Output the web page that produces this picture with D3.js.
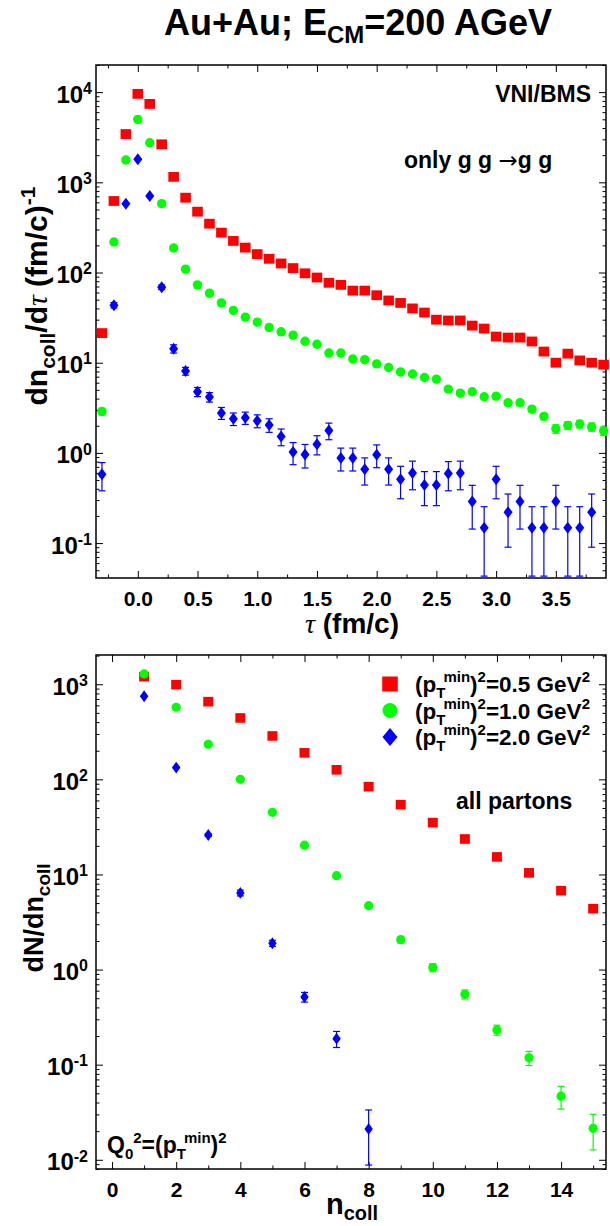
<!DOCTYPE html>
<html>
<head>
<meta charset="utf-8">
<script src="https://cdn.jsdelivr.net/npm/d3@7"></script>
<style>
body{margin:0;background:#fff;}
svg text{font-family:"Liberation Sans",Arial,Helvetica,sans-serif;font-weight:bold;fill:#000;}
svg text .greek{font-family:"Liberation Serif","DejaVu Serif",serif;font-style:italic;font-weight:normal;}
svg text .thin{font-family:"DejaVu Sans",sans-serif;font-weight:normal;}
</style>
</head>
<body>
<script>
(function(){
  //top panel: collisions per unit time
  var tauVals = [-0.3,-0.2,-0.1,0.0,0.1,0.2,0.3,0.4,0.5,0.6,0.7,0.8,0.9,1.0,1.1,1.2,1.3,1.4,1.5,1.6,1.7,1.8,1.9,2.0,2.1,2.2,2.3,2.4,2.5,2.6,2.7,2.8,2.9,3.0,3.1,3.2,3.3,3.4,3.5,3.6,3.7,3.8,3.9];
  var redTau = [21.3,621,3430,9580,7410,2640,1150,676,473,348,277,224,189,160,142,126,112,98,88,77,73,63,63,56,49,46,40,36,30,29.4,29.4,25.8,23.9,19.5,19.0,19.0,17.2,13.3,10.0,12.6,10.6,10.0,9.5];
  var greenTau = [2.88,218,1770,4990,2750,580,187,109,73,59,46,38,32,28.2,24.6,22,20.2,17.3,16.0,12.8,12.8,11.0,10.8,9.7,8.85,7.9,7.5,6.86,6.58,5.1,4.6,4.76,4.19,4.26,3.6,3.6,3.06,2.54,1.85,2.02,2.09,1.94,1.75];
  var greenTauErr = [0.25,1.6,4.6,7.8,5.8,2.7,1.5,1.15,0.94,0.85,0.75,0.68,0.62,0.59,0.55,0.52,0.5,0.46,0.44,0.4,0.4,0.37,0.36,0.34,0.33,0.31,0.3,0.29,0.28,0.25,0.24,0.24,0.23,0.23,0.22,0.22,0.22,0.2,0.2,0.2,0.2,0.2,0.19];
  var blueTau = [0.58,43.4,580,1800,705,68.8,14.3,8.07,4.76,4.16,2.77,2.39,2.45,2.27,2.04,1.52,1.02,0.96,1.25,1.77,0.88,0.88,0.66,0.955,0.66,0.51,0.60,0.44,0.44,0.59,0.60,0.29,0.148,0.51,0.22,0.29,0.148,0.148,0.29,0.148,0.148,0.22,null];
  var blueTauErr = [0.2,3,12,20,13,4,1.5,0.8,0.55,0.5,0.42,0.38,0.38,0.37,0.35,0.32,0.28,0.28,0.3,0.37,0.25,0.25,0.22,0.27,0.22,0.2,0.21,0.18,0.18,0.21,0.21,0.147,0.105,0.2,0.13,0.147,0.105,0.105,0.147,0.105,0.105,0.13,null];
  var tauTickLabels = [0.0,0.5,1.0,1.5,2.0,2.5,3.0,3.5];

  //bottom panel: number of collisions distribution
  var nColl = [1,2,3,4,5,6,7,8,9,10,11,12,13,14,15];
  var redN = [1202,990,656,442,286,190,126,83.8,54.2,35.1,23.6,15.3,10.4,6.76,4.37];
  var greenN = [1283,573,234,100,45,20.3,9.7,4.7,2.06,1.05,0.55,0.232,0.118,0.0466,0.0214];
  var greenNErr = [5,3,2,1.2,0.8,0.5,0.35,0.25,0.15,0.1,0.06,0.028,0.02,0.0125,0.0087];
  var blueN = [748,133,26,6.4,1.89,0.515,0.1875,0.0211,null,null,null,null,null,null,null];
  var blueNErr = [5,2,0.9,0.45,0.14,0.06,0.036,0.0123,null,null,null,null,null,null,null];
  var nTickLabels = [0,2,4,6,8,10,12,14];

  var legendLabels = ["0.5","1.0","2.0"];

  var width = 610, height = 1226;
  var left = 96, right = 606;

  var svg = d3.select("body").append("svg")
      .attr("width", width)
      .attr("height", height);

  //title
  var title = svg.append("text")
      .attr("x", 358).attr("y", 35)
      .attr("text-anchor", "middle")
      .style("font-size", "36px")
      .text("Au+Au; E");
  title.append("tspan").attr("dy", 8).style("font-size", "24px").text("CM");
  title.append("tspan").attr("dy", -8).text("=200 AGeV");

  function markerPath(type, w, h){
    if (type == "square"){
      return "M" + (-w) + "," + (-h) + "H" + w + "V" + h + "H" + (-w) + "Z";
    } else if (type == "diamond"){
      return "M0," + (-h) + "L" + w + ",0L0," + h + "L" + (-w) + ",0Z";
    } else {
      return d3.arc()({innerRadius:0, outerRadius:w, startAngle:0, endAngle:2*Math.PI});
    }
  };

  function logTicks(domain){
    var major = [], minor = [];
    var lo = Math.floor(Math.log10(domain[0])), hi = Math.ceil(Math.log10(domain[1]));
    for (var e=lo; e<=hi; e++){
      var base = Math.pow(10, e);
      if (base >= domain[0] && base <= domain[1]) major.push(base);
      for (var k=2; k<10; k++){
        var v = k * base;
        if (v >= domain[0] && v <= domain[1]) minor.push(v);
      }
    }
    return {major:major, minor:minor};
  };

  function cleanAxis(g){
    g.attr("font-size", null).attr("font-family", null);
    g.select(".domain").remove();
    g.selectAll(".tick line").attr("stroke", "#000").attr("stroke-width", 1);
  };

  function drawPanel(p){
    var x = d3.scaleLinear().domain(p.xDomain).range([left, right]);
    var y = d3.scaleLog().domain(p.yDomain).range([p.bottom, p.top]);
    var g = svg.append("g");
    var yt = logTicks(p.yDomain);

    //y axes (both sides, ticks inward)
    g.append("g").attr("transform", "translate(" + left + ",0)")
      .call(d3.axisLeft(y).tickValues(yt.minor).tickSize(-3.5).tickFormat(""))
      .call(cleanAxis);
    g.append("g").attr("transform", "translate(" + right + ",0)")
      .call(d3.axisRight(y).tickValues(yt.minor).tickSize(-3.5).tickFormat(""))
      .call(cleanAxis);
    g.append("g").attr("transform", "translate(" + right + ",0)")
      .call(d3.axisRight(y).tickValues(yt.major).tickSize(-7).tickFormat(""))
      .call(cleanAxis);
    var yAxis = g.append("g").attr("transform", "translate(" + left + ",0)")
      .call(d3.axisLeft(y).tickValues(yt.major).tickSize(-7).tickPadding(p.yPad)
        .tickFormat(function(){ return "10"; }))
      .call(cleanAxis);
    yAxis.selectAll(".tick text")
      .attr("dy", "0.42em")
      .style("font-size", "24px")
      .append("tspan")
      .attr("dy", "-0.55em")
      .style("font-size", "16px")
      .text(function(d){ return Math.round(Math.log10(d)); });

    //x axes
    g.append("g").attr("transform", "translate(0," + p.bottom + ")")
      .call(d3.axisBottom(x).tickValues(p.xMinor).tickSize(-3.5).tickFormat(""))
      .call(cleanAxis);
    g.append("g").attr("transform", "translate(0," + p.top + ")")
      .call(d3.axisTop(x).tickValues(p.xMinor).tickSize(-3.5).tickFormat(""))
      .call(cleanAxis);
    g.append("g").attr("transform", "translate(0," + p.top + ")")
      .call(d3.axisTop(x).tickValues(p.xMajor).tickSize(-7).tickFormat(""))
      .call(cleanAxis);
    var xAxis = g.append("g").attr("transform", "translate(0," + p.bottom + ")")
      .call(d3.axisBottom(x).tickValues(p.xMajor).tickSize(-7).tickPadding(p.xPad)
        .tickFormat(p.xFormat))
      .call(cleanAxis);
    xAxis.selectAll(".tick text").style("font-size", "21px");

    //frame
    g.append("rect")
      .attr("x", left).attr("y", p.top)
      .attr("width", right - left).attr("height", p.bottom - p.top)
      .attr("fill", "none").attr("stroke", "#000").attr("stroke-width", 1.5);

    //series
    p.series.forEach(function(s){
      var pts = [];
      for (var i=0; i<p.xVals.length; i++){
        if (s.vals[i] != null) pts.push({x:p.xVals[i], v:s.vals[i], e:s.errs ? s.errs[i] : 0});
      }
      var errG = g.append("g").attr("stroke", s.color).attr("stroke-width", 1.2);
      pts.forEach(function(d){
        if (!d.e) return;
        var px = x(d.x),
            y1 = y(d.v + d.e),
            y2 = d.v - d.e > p.yDomain[0] ? y(d.v - d.e) : p.bottom - 2;
        errG.append("line").attr("x1", px).attr("x2", px).attr("y1", y1).attr("y2", y2);
        errG.append("line").attr("x1", px - 3.5).attr("x2", px + 3.5).attr("y1", y1).attr("y2", y1);
        errG.append("line").attr("x1", px - 3.5).attr("x2", px + 3.5).attr("y1", y2).attr("y2", y2);
      });
      g.append("g").selectAll("path")
        .data(pts)
        .enter()
        .append("path")
        .attr("transform", function(d){ return "translate(" + x(d.x) + "," + y(d.v) + ")"; })
        .attr("d", markerPath(s.shape, s.w, s.h))
        .attr("fill", s.color);
    });
    return {x:x, y:y};
  };

  //top panel
  drawPanel({
    top: 65, bottom: 578,
    xDomain: [-0.35, 3.92], yDomain: [0.041, 20000],
    xMajor: tauTickLabels,
    xMinor: [-0.25,0.25,0.75,1.25,1.75,2.25,2.75,3.25,3.75],
    xFormat: d3.format(".1f"), xPad: 13, yPad: 4,
    xVals: tauVals,
    series: [
      {vals: redTau, color: "#ff0000", shape: "square", w: 5.3, h: 4.9},
      {vals: greenTau, errs: greenTauErr, color: "#00ff00", shape: "circle", w: 4.7},
      {vals: blueTau, errs: blueTauErr, color: "#0000ff", shape: "diamond", w: 4.5, h: 6}
    ]
  });

  //bottom panel
  drawPanel({
    top: 655, bottom: 1169,
    xDomain: [-0.5, 15.4], yDomain: [0.008, 2030],
    xMajor: nTickLabels,
    xMinor: [1,3,5,7,9,11,13,15],
    xFormat: d3.format("d"), xPad: 13, yPad: 8,
    xVals: nColl,
    series: [
      {vals: redN, color: "#ff0000", shape: "square", w: 5, h: 4.8},
      {vals: greenN, errs: greenNErr, color: "#00ff00", shape: "circle", w: 4.6},
      {vals: blueN, errs: blueNErr, color: "#0000ff", shape: "diamond", w: 4.2, h: 5.9}
    ]
  });

  //axis titles
  var yl1 = svg.append("text")
      .attr("transform", "translate(47,296) rotate(-90)")
      .attr("text-anchor", "middle")
      .style("font-size", "30px")
      .text("dn");
  yl1.append("tspan").attr("dy", 8).style("font-size", "21px").text("coll");
  yl1.append("tspan").attr("dy", -8).text("/d");
  yl1.append("tspan").attr("class", "greek").text("\u03c4");
  yl1.append("tspan").text(" (fm/c)");
  yl1.append("tspan").attr("dy", -12).style("font-size", "21px").text("-1");

  var xl1 = svg.append("text")
      .attr("x", 352).attr("y", 633)
      .attr("text-anchor", "middle")
      .style("font-size", "28px");
  xl1.append("tspan").attr("class", "greek").text("\u03c4");
  xl1.append("tspan").text(" (fm/c)");

  var yl2 = svg.append("text")
      .attr("transform", "translate(43,918) rotate(-90)")
      .attr("text-anchor", "middle")
      .style("font-size", "27px")
      .text("dN/dn");
  yl2.append("tspan").attr("dy", 7).style("font-size", "19px").text("coll");

  var xl2 = svg.append("text")
      .attr("x", 352).attr("y", 1214)
      .attr("text-anchor", "middle")
      .style("font-size", "29px")
      .text("n");
  xl2.append("tspan").attr("dy", 6).style("font-size", "20px").text("coll");

  //annotations
  svg.append("text").attr("x", 591).attr("y", 102)
      .attr("text-anchor", "end").style("font-size", "23px").text("VNI/BMS");
  var gg = svg.append("text").attr("x", 404).attr("y", 168).style("font-size", "23px").text("only g g ");
  gg.append("tspan").attr("class", "thin").text("\u2192");
  gg.append("tspan").text("g g");

  svg.append("text").attr("x", 456).attr("y", 809).style("font-size", "23px").text("all partons");

  var q = svg.append("text").attr("x", 107).attr("y", 1153).style("font-size", "23px").text("Q");
  q.append("tspan").attr("dy", 6).style("font-size", "15px").text("0");
  q.append("tspan").attr("dy", -16).style("font-size", "15px").text("2");
  q.append("tspan").attr("dy", 10).text("=(p");
  q.append("tspan").attr("dy", 6).style("font-size", "15px").text("T");
  q.append("tspan").attr("dy", -16).attr("dx", -2).style("font-size", "15px").text("min");
  q.append("tspan").attr("dy", 10).text(")");
  q.append("tspan").attr("dy", -10).style("font-size", "15px").text("2");

  //legend
  var legShapes = [
    {color: "#ff0000", shape: "square", w: 7.8, h: 7.5},
    {color: "#00ff00", shape: "circle", w: 7.5},
    {color: "#0000ff", shape: "diamond", w: 7.5, h: 9}
  ];
  var legend = svg.append("g");
  legendLabels.forEach(function(lab, i){
    var yy = 684 + i * 26.5;
    legend.append("path")
      .attr("transform", "translate(390," + yy + ")")
      .attr("d", markerPath(legShapes[i].shape, legShapes[i].w, legShapes[i].h))
      .attr("fill", legShapes[i].color);
    var t = legend.append("text").attr("x", 415).attr("y", yy + 8).style("font-size", "22.5px").text("(p");
    t.append("tspan").attr("dy", 6).style("font-size", "15px").text("T");
    t.append("tspan").attr("dy", -16).attr("dx", -2).style("font-size", "15px").text("min");
    t.append("tspan").attr("dy", 10).text(")");
    t.append("tspan").attr("dy", -10).style("font-size", "15px").text("2");
    t.append("tspan").attr("dy", 10).text("=" + lab + " GeV");
    t.append("tspan").attr("dy", -10).style("font-size", "15px").text("2");
  });
})();
</script>
</body>
</html>
